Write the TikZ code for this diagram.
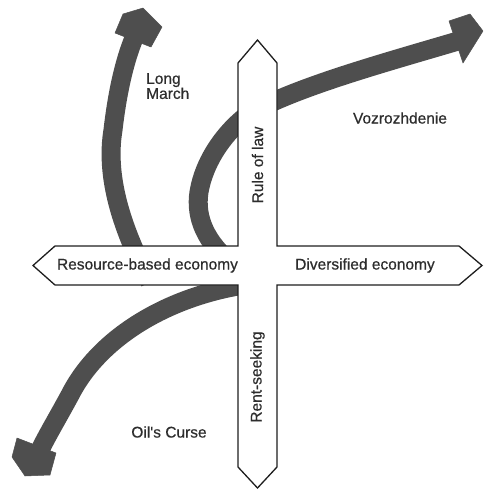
\documentclass[tikz,border=0pt]{standalone}
\usepackage{fontspec}
\setmainfont{Liberation Sans}
\newfontfamily\lblfont{Liberation Sans}[FakeBold=0.6]
\definecolor{arrowgray}{RGB}{78,78,78}
\definecolor{textgray}{RGB}{45,45,45}
\definecolor{edgegray}{RGB}{30,30,30}
\tikzset{
  flow/.style={draw=arrowgray, line width=19pt},
  flowhead/.style={fill=arrowgray, draw=arrowgray, line width=0.5pt, line join=round},
  crossbar/.style={fill=white, draw=edgegray, line width=1.3pt, line join=miter},
  lbl/.style={text=textgray, font=\lblfont\fontsize{15.5}{15}\selectfont, inner sep=0pt}
}
\begin{document}
\begin{tikzpicture}[x=1pt, y=-1pt]
\useasboundingbox (0,0) rectangle (483,491);
% Long March arrow
\draw[flow] (150,282) .. controls (118,222) and (106,172) .. (113,130)
  .. controls (117,95) and (124,62) .. (134,38);
\fill[flowhead] (115,33) -- (123,14) -- (143,8) -- (162,27) -- (151,47) -- cycle;
% Vozrozhdenie loop arrow
\draw[flow] (232,264) .. controls (206,242) and (195,218) .. (199,192)
  .. controls (204,162) and (224,132) .. (250,113)
  .. controls (300,86) and (380,64) .. (458,41);
\fill[flowhead] (449,21) -- (470,14) -- (483,31) -- (463,63) -- cycle;
% Oil's Curse arrow
\draw[flow] (258,283) .. controls (172,293) and (100,336) .. (70,395)
  .. controls (57,419) and (49,432) .. (40,450);
\fill[flowhead] (17,438) -- (12,457) -- (25,476) -- (50,475) -- (56,453) -- cycle;
% cross of bars
\draw[crossbar] (257.5,40) -- (277,63) -- (277,246) -- (459,246) -- (482,265.5)
  -- (459,285) -- (277,285) -- (277,467) -- (257.5,488) -- (238,467)
  -- (238,285) -- (55,285) -- (33,265.5) -- (55,246) -- (238,246)
  -- (238,63) -- cycle;
% labels
\node[lbl] (res) at (147.5,265.5) {Resource-based economy};
\node[lbl] (div) at (365,265.5) {Diversified economy};
\node[lbl, rotate=90] (rol) at (257.5,165) {Rule of law};
\node[lbl, rotate=90] (rent) at (257.5,377) {Rent-seeking};
\node[lbl, align=left, anchor=north west] (lm) at (146,73) {Long\\March};
\node[lbl] (voz) at (400,118) {Vozrozhdenie};
\node[lbl] (oil) at (169,432) {Oil's Curse};
\end{tikzpicture}
\end{document}
